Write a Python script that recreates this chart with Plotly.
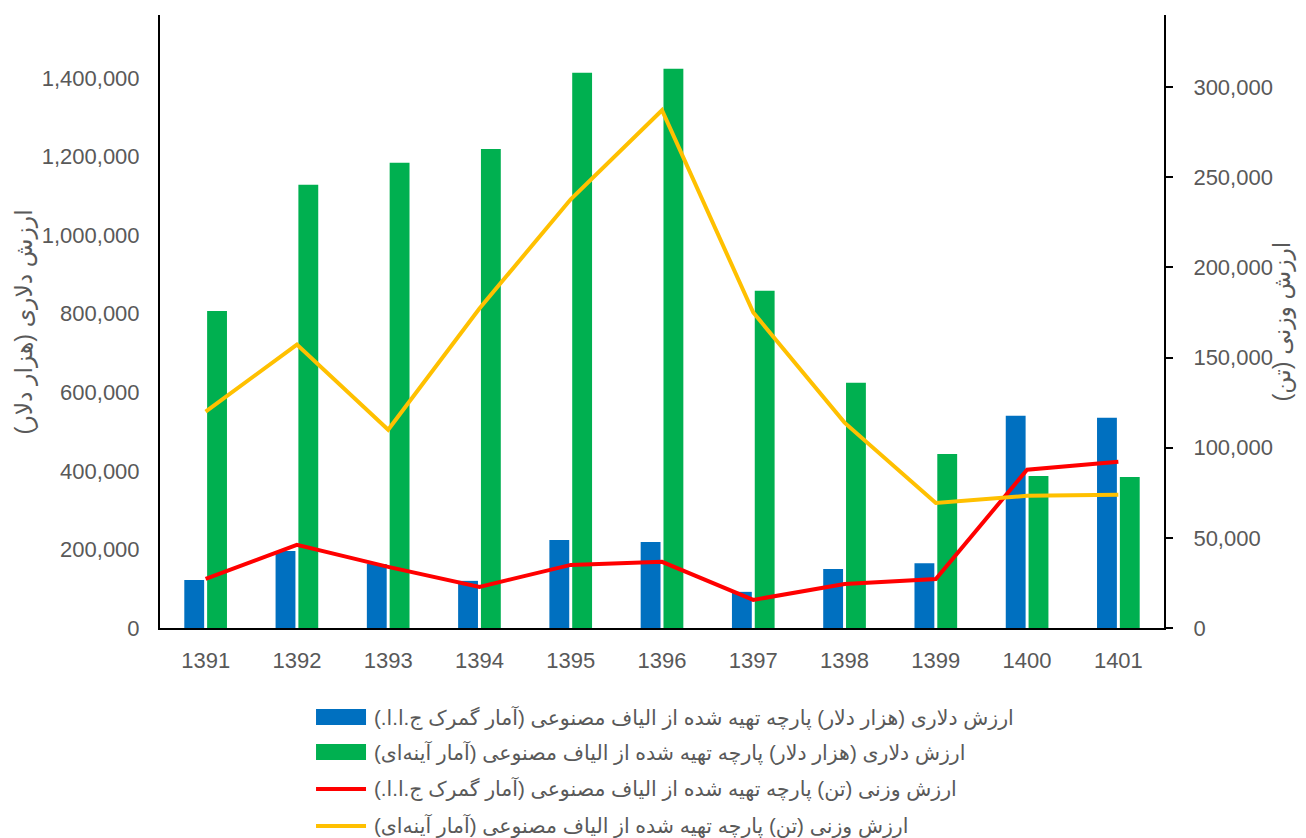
import plotly.graph_objects as go

years = ['1391', '1392', '1393', '1394', '1395', '1396', '1397', '1398', '1399', '1400', '1401']

# ارزش دلاری (هزار دلار)
dollar_customs = [122000, 196000, 163000, 120000, 224000, 219000, 92000, 150000, 165000, 540000, 535000]
dollar_ayneh = [807000, 1128000, 1184000, 1219000, 1413000, 1423000, 858000, 624000, 443000, 387000, 384000]

# ارزش وزنی (تن)
weight_customs = [27200, 46100, 33900, 22800, 35000, 36700, 15600, 24400, 27200, 87800, 92200]
weight_ayneh = [120000, 157200, 110000, 177200, 237800, 287200, 175000, 113900, 69400, 73300, 73900]

names = [
    'ارزش دلاری (هزار دلار) پارچه تهیه شده از الیاف مصنوعی (آمار گمرک ج.ا.ا.)',
    'ارزش دلاری (هزار دلار) پارچه تهیه شده از الیاف مصنوعی (آمار آینه‌ای)',
    'ارزش وزنی (تن) پارچه تهیه شده از الیاف مصنوعی (آمار گمرک ج.ا.ا.)',
    'ارزش وزنی (تن) پارچه تهیه شده از الیاف مصنوعی (آمار آینه‌ای)',
]
colors = ['#0070C0', '#00B050', '#FF0000', '#FFC000']

y1_title = 'ارزش دلاری (هزار دلار)'
y2_title = 'ارزش وزنی (تن)'

RLM = '\u200f'
def rtl(s):
    return RLM + s + RLM

FONT = 'Liberation Sans, DejaVu Sans, sans-serif'
GREY = '#595959'

fig = go.Figure()
fig.add_trace(go.Bar(x=years, y=dollar_customs, name=rtl(names[0]),
                     marker=dict(color=colors[0], line=dict(width=0))))
fig.add_trace(go.Bar(x=years, y=dollar_ayneh, name=rtl(names[1]),
                     marker=dict(color=colors[1], line=dict(width=0))))
fig.add_trace(go.Scatter(x=years, y=weight_customs, name=rtl(names[2]), yaxis='y2',
                         mode='lines', line=dict(color=colors[2], width=4)))
fig.add_trace(go.Scatter(x=years, y=weight_ayneh, name=rtl(names[3]), yaxis='y2',
                         mode='lines', line=dict(color=colors[3], width=4)))

# hand-made legend (wide swatches, like the original)
shapes = []
annotations = []
row_y = [-0.1452, -0.2023, -0.2626, -0.3230]
for i, (nm, c) in enumerate(zip(names, colors)):
    y = row_y[i]
    if i < 2:
        shapes.append(dict(type='rect', xref='paper', yref='paper',
                           x0=0.1554, x1=0.2052, y0=y - 0.013, y1=y + 0.013,
                           fillcolor=c, line=dict(width=0)))
    else:
        shapes.append(dict(type='line', xref='paper', yref='paper',
                           x0=0.1554, x1=0.2052, y0=y, y1=y,
                           line=dict(color=c, width=4)))
    annotations.append(dict(text=rtl(nm), xref='paper', yref='paper',
                            x=0.2112, y=y, xanchor='left', yanchor='middle',
                            showarrow=False, font=dict(size=20.5, color=GREY)))

# axis titles
annotations.append(dict(text=rtl(y1_title), xref='paper', yref='paper',
                        x=-0.1345, y=0.50, xanchor='center', yanchor='middle',
                        textangle=-90, showarrow=False, font=dict(size=23.5, color=GREY)))
annotations.append(dict(text=rtl(y2_title), xref='paper', yref='paper',
                        x=1.1185, y=0.50, xanchor='center', yanchor='middle',
                        textangle=-90, showarrow=False, font=dict(size=23.5, color=GREY)))

fig.update_layout(
    width=1306,
    height=838,
    margin=dict(l=152, r=150, t=7, b=218, autoexpand=False),
    paper_bgcolor='white',
    plot_bgcolor='white',
    font=dict(family=FONT, color=GREY, size=22),
    barmode='group',
    bargap=0.5,
    bargroupgap=0.13,
    showlegend=False,
    shapes=shapes,
    annotations=annotations,
    xaxis=dict(
        showline=True, linecolor='black', linewidth=2,
        showgrid=False, ticks='', tickfont=dict(size=22, color=GREY),
        ticklabelstandoff=12, automargin=False,
    ),
    yaxis=dict(
        range=[0, 1560000],
        showline=True, linecolor='black', linewidth=2,
        showgrid=False, zeroline=False, ticks='',
        tickvals=[0, 200000, 400000, 600000, 800000, 1000000, 1200000, 1400000],
        tickformat=',d', ticklabelstandoff=14, automargin=False,
    ),
    yaxis2=dict(
        overlaying='y', side='right',
        range=[0, 340000],
        showline=True, linecolor='black', linewidth=2,
        showgrid=False, zeroline=False,
        ticks='outside', ticklen=7, tickcolor='black', tickwidth=2,
        tickvals=[0, 50000, 100000, 150000, 200000, 250000, 300000],
        tickformat=',d', ticklabelstandoff=16, automargin=False,
    ),
)

fig.write_html('out.html')
